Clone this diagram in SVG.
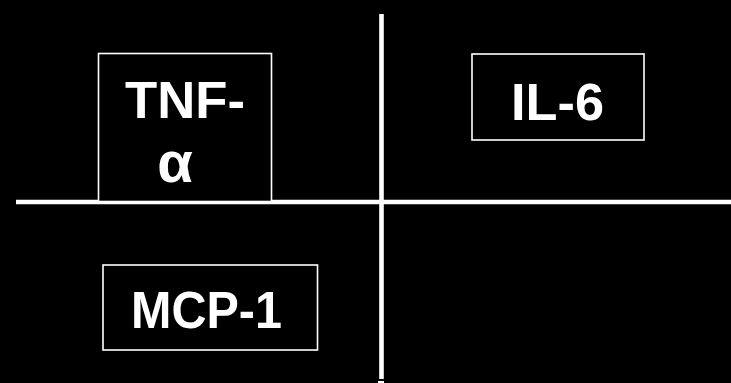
<svg xmlns="http://www.w3.org/2000/svg" width="731" height="383" viewBox="0 0 731 383">
  <style>
    .box { fill: #000; stroke: #fff; stroke-width: 1.6; }
    .axis { stroke: #fff; stroke-width: 4.6; fill: none; }
    .label { fill: #fff; font-family: "Liberation Sans", Arial, sans-serif; font-weight: bold; font-size: 51px; }
  </style>
  <rect x="0" y="0" width="731" height="383" fill="#000"/>

  <!-- quadrant axes -->
  <g id="connectors">
    <line class="axis" x1="381.5" y1="14" x2="381.5" y2="379"/>
    <rect x="378" y="381" width="6" height="2" fill="#fff"/>
    <line class="axis" x1="16" y1="202" x2="731" y2="202"/>
  </g>

  <g id="tnf-alpha">
    <rect class="box" x="98.5" y="53.5" width="173" height="148"/>
    <text class="label" x="125" y="118" textLength="120" lengthAdjust="spacingAndGlyphs">TNF-</text>
    <text class="label" x="175" y="182" text-anchor="middle" style="font-size:58px">α</text>
  </g>

  <g id="il-6">
    <rect class="box" x="472" y="54" width="172" height="86"/>
    <text class="label" x="511" y="120" textLength="93" lengthAdjust="spacingAndGlyphs">IL-6</text>
  </g>

  <g id="mcp-1">
    <rect class="box" x="103" y="265" width="214.5" height="85"/>
    <text class="label" x="131" y="328" textLength="151" lengthAdjust="spacingAndGlyphs">MCP-1</text>
  </g>
</svg>
